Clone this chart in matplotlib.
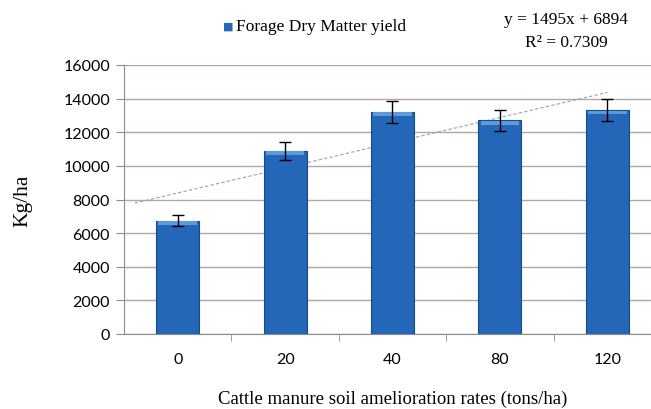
import matplotlib.pyplot as plt
import numpy as np

# dane
dawki = ["0", "20", "40", "80", "120"]
plon = [6750, 10900, 13200, 12700, 13300]
blad = [330, 530, 650, 620, 650]
y_ticks = [0, 2000, 4000, 6000, 8000, 10000, 12000, 14000, 16000]
trend_a = 1495
trend_b = 6894
r2 = 0.7309

fig = plt.figure(figsize=(6.51, 4.10), dpi=100)
ax = fig.add_axes([124 / 651, 1 - 335 / 410, 537 / 651, 269 / 410])

x = np.arange(len(dawki))
ax.bar(x, plon, width=0.4, color="#2467b8", edgecolor="#184a8a", lw=0.8, zorder=3)
# jasniejszy pasek na gorze slupka
ax.bar(x, [220] * len(x), bottom=np.array(plon) - 240, width=0.36,
       color="#5f9ad8", lw=0, zorder=4)
ax.errorbar(x, plon, yerr=blad, fmt="none", ecolor="black", elinewidth=1,
            capsize=4, capthick=1, zorder=5)

# linia trendu (za slupkami)
xt = np.linspace(-0.4, 4, 50)
ax.plot(xt, trend_a * (xt + 1) + trend_b, ls=(0, (3, 2)), color="#8fa3bf",
        lw=0.8, zorder=2)

ax.set_xlim(-0.5, 4.5)
ax.set_ylim(0, 16000)
ax.set_yticks(y_ticks)
ax.set_yticklabels([str(v) for v in y_ticks], fontfamily="Lato", fontsize=11.5)
ax.set_xticks(x)
ax.set_xticklabels(dawki, fontfamily="Lato", fontsize=11.5)
ax.set_xticks(x[:-1] + 0.5, minor=True)
ax.tick_params(axis="x", which="major", length=0, pad=13)
ax.tick_params(axis="x", which="minor", length=5, color="#8c8c8c")
ax.tick_params(axis="y", length=6, color="#8c8c8c", pad=4)
ax.grid(axis="y", color="#b5a7a0", lw=1, zorder=0)
for s in ["top", "right"]:
    ax.spines[s].set_visible(False)
ax.spines["left"].set_color("#8c8c8c")
ax.spines["bottom"].set_color("#8c8c8c")

ax.set_ylabel("Kg/ha", fontfamily="Liberation Serif", fontsize=15.5, labelpad=22)
ax.set_xlabel("Cattle manure soil amelioration rates (tons/ha)",
              fontfamily="Liberation Serif", fontsize=13.5, labelpad=17)

# legenda i rownanie
fig.text(223 / 651, 1 - 27 / 410, "\u25A0", color="#2467b8", fontsize=8,
         va="center", ha="left")
fig.text(236 / 651, 1 - 27 / 410, "Forage Dry Matter yield",
         fontfamily="Liberation Serif", fontsize=12.5, va="center", ha="left")
fig.text(566 / 651, 1 - 20 / 410, "y = %dx + %d" % (trend_a, trend_b),
         fontfamily="Liberation Serif", fontsize=12.5, va="center", ha="center")
fig.text(566 / 651, 1 - 43 / 410, "R\u00b2 = %.4f" % r2,
         fontfamily="Liberation Serif", fontsize=12.5, va="center", ha="center")

fig.savefig("out.png", dpi=100)
